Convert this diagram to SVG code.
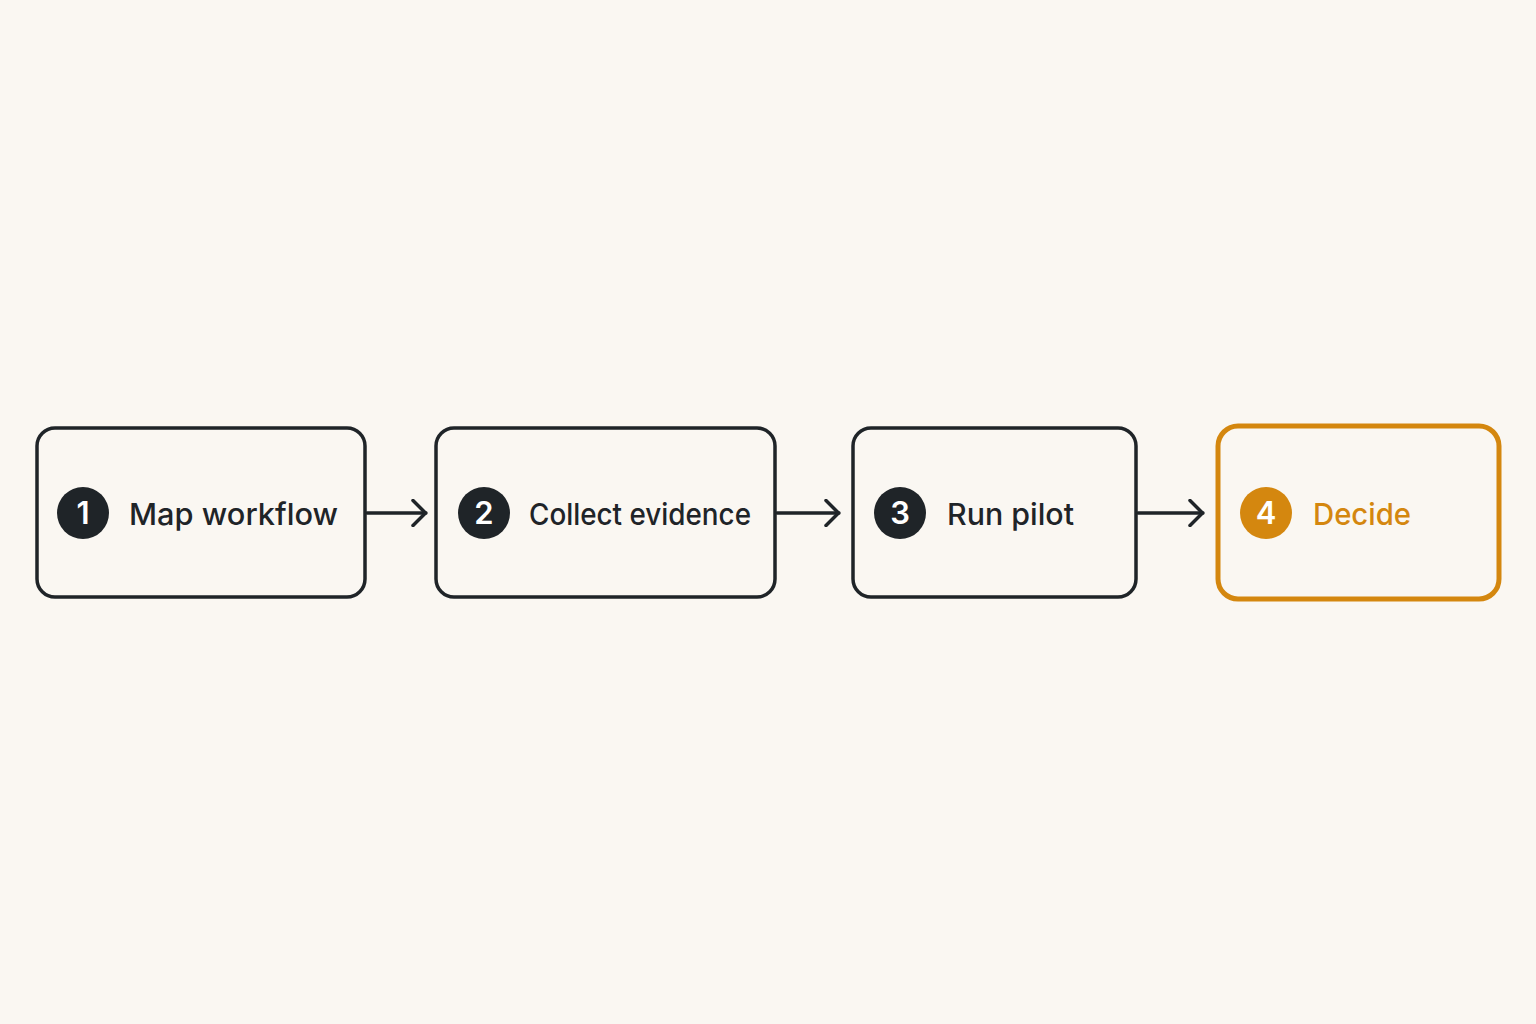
<svg xmlns="http://www.w3.org/2000/svg" width="1536" height="1024" viewBox="0 0 1536 1024">
<defs>
<style>
.box{fill:none;stroke:#1f2428;stroke-width:3.5}
.boxo{fill:none;stroke:#d4870f;stroke-width:5}
.lbl{font-family:Inter,"Liberation Sans",sans-serif;font-size:30px;font-weight:500;fill:#1f2428}
.lblo{fill:#d4870f}
.num{font-family:Inter,"Liberation Sans",sans-serif;font-size:31px;font-weight:600;fill:#ffffff;text-anchor:middle}
.conn{fill:none;stroke:#1f2428;stroke-width:3.5;stroke-linecap:round;stroke-linejoin:round}
</style>
<marker id="arr" viewBox="0 0 16 28" refX="15" refY="14" markerWidth="16" markerHeight="28" markerUnits="userSpaceOnUse" orient="auto">
<path d="M2 1.5 L14.5 14 L2 26.5" fill="none" stroke="#1f2428" stroke-width="3.5" stroke-linecap="round" stroke-linejoin="round"/>
</marker>
</defs>
<rect width="1536" height="1024" fill="#faf7f2"/>
<g id="connectors">
<path class="conn" d="M367 513 H426" marker-end="url(#arr)"/>
<path class="conn" d="M777 513 H839" marker-end="url(#arr)"/>
<path class="conn" d="M1138 513 H1203" marker-end="url(#arr)"/>
</g>
<g id="node1">
<rect class="box" x="37" y="428" width="328" height="169" rx="18"/>
<circle cx="83" cy="513" r="26" fill="#1f2428"/>
<text class="num" x="83" y="524">1</text>
<text class="lbl" x="129" y="525" textLength="209" lengthAdjust="spacingAndGlyphs">Map workflow</text>
</g>
<g id="node2">
<rect class="box" x="436" y="428" width="339" height="169" rx="18"/>
<circle cx="484" cy="513" r="26" fill="#1f2428"/>
<text class="num" x="484" y="524">2</text>
<text class="lbl" x="529" y="525" textLength="222" lengthAdjust="spacingAndGlyphs">Collect evidence</text>
</g>
<g id="node3">
<rect class="box" x="853" y="428" width="283" height="169" rx="18"/>
<circle cx="900" cy="513" r="26" fill="#1f2428"/>
<text class="num" x="900" y="524">3</text>
<text class="lbl" x="947" y="525" textLength="127" lengthAdjust="spacingAndGlyphs">Run pilot</text>
</g>
<g id="node4">
<rect class="boxo" x="1218" y="426" width="281" height="173" rx="20"/>
<circle cx="1266" cy="513" r="26" fill="#d4870f"/>
<text class="num" x="1266" y="524">4</text>
<text class="lbl lblo" x="1313" y="525" textLength="98" lengthAdjust="spacingAndGlyphs">Decide</text>
</g>
</svg>
